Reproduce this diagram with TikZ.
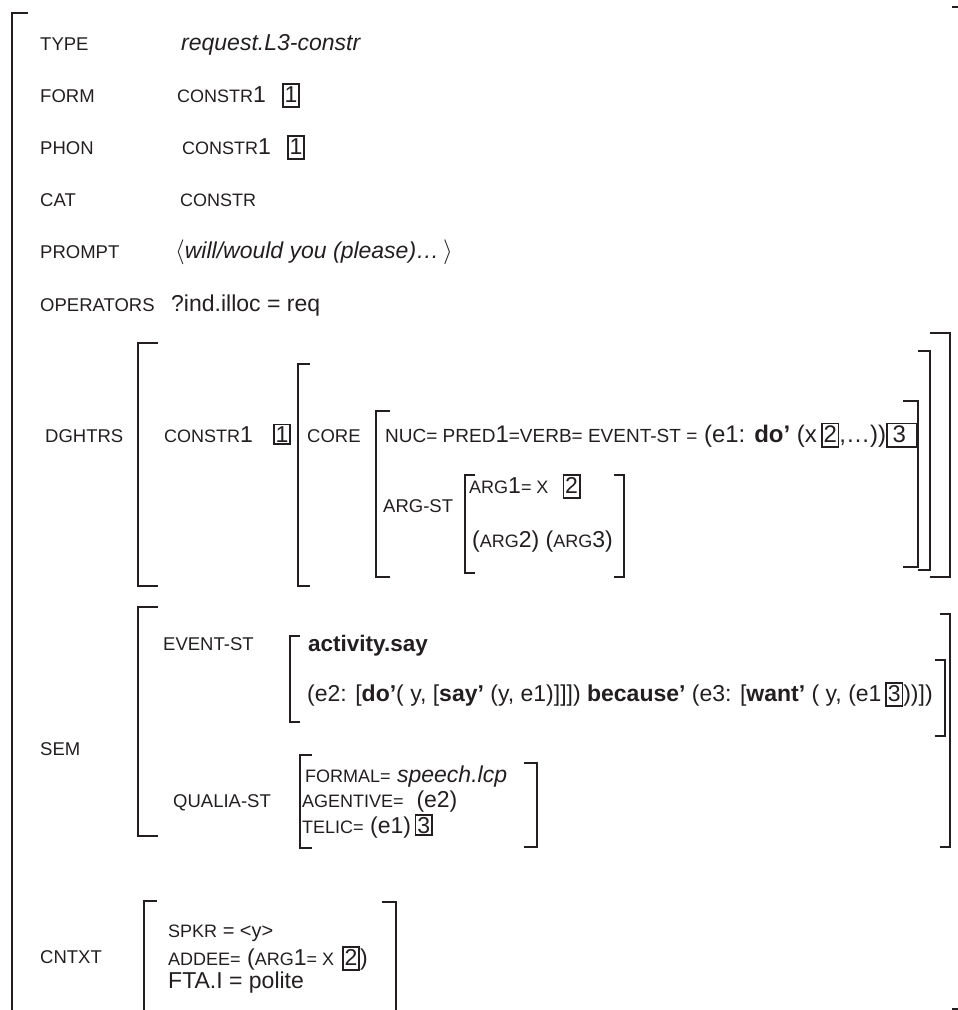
\documentclass[tikz,border=0pt]{standalone}
\usepackage{fontspec}
\setmainfont{Liberation Sans}
\usetikzlibrary{positioning}
\definecolor{ink}{RGB}{35,31,32}
\newcommand{\lab}{\fontsize{18.5}{20}\selectfont}
\newcommand{\nrm}{\fontsize{23}{25}\selectfont}
\newcommand{\sml}[1]{{\fontsize{18}{20}\selectfont #1}}
\newcommand{\smb}[1]{{\fontsize{19}{21}\selectfont #1}}
\setlength{\fboxrule}{1.6pt}
\setlength{\fboxsep}{1pt}
\newcommand{\bx}[1]{\fbox{\rule[-3pt]{0pt}{19pt}#1}}
\newcommand{\bxs}[1]{\fbox{#1}}
\tikzset{
  lbl/.style={anchor=base west, inner sep=0pt, font=\lab, text=ink},
  val/.style={anchor=base west, inner sep=0pt, font=\nrm, text=ink},
  brak/.style={draw=ink, line width=1.5pt},
}
\begin{document}
\begin{tikzpicture}[x=1pt,y=-1pt]
			\useasboundingbox (0,0) rectangle (958,1010);
			
			\draw[brak] (28,13) -| (12,1010);
			\draw[brak] (952,7) -- (958,7);
			\draw[brak] (952,1009) -- (958,1009);
			
			\node[lbl] (type) at (40,50) {TYPE};
			\node[val] (typev) at (181,50) {\textit{request.L3-constr}};
			\node[lbl] (form) at (40,102) {FORM};
			\node[val] (formv) at (177,102) {\sml{CONSTR}1\hspace{16pt}\bx{1}};
			\node[lbl] (phon) at (40,154) {PHON};
			\node[val] (phonv) at (182,154) {\sml{CONSTR}1\hspace{16pt}\bx{1}};
			\node[lbl] (cat) at (40,206) {CAT};
			\node[val] (catv) at (180,206) {\sml{CONSTR}};
			\node[lbl] (prompt) at (40,258) {PROMPT};
			\node[val] (promptv) at (175,258) {$\langle$\textit{will/would you (please)\ldots}\,$\rangle$};
			\node[lbl] (oper) at (40,311) {OPERATORS};
			\node[val] (operv) at (171,311) {?ind.illoc = req};
			
			\draw[brak] (158,343) -| (138,586) -- (158,586);
			\draw[brak] (930,333) -| (950,577) -- (930,577);
			\draw[brak] (310,364) -| (298,586) -- (310,586);
			\draw[brak] (918,351) -| (930,570) -- (918,570);
			\draw[brak] (390,411) -| (376,577) -- (390,577);
			\draw[brak] (903,401) -| (918,567) -- (903,567);
			\draw[brak] (475,475) -| (465,573) -- (475,573);
			\draw[brak] (614,475) -| (624,577) -- (614,577);
			
			\node[lbl] (dghtrs) at (45,442) {DGHTRS};
			\node[val] (constr) at (164,442) {\sml{CONSTR}1\hspace{20pt}\bxs{1}};
			\node[lbl] (core) at (307,442) {CORE};
			\node[val, font=\fontsize{24}{26}\selectfont] (nuc) at (385,442) {\smb{NUC= PRED}1\smb{=VERB= EVENT-ST =} (e1: \textbf{do’} (x\,\bx{2},\ldots))\bx{\,3\hspace{9pt}}};
			\node[lbl] (argst) at (383,512) {ARG-ST};
			\node[val] (arg1) at (469,493) {\sml{ARG}1\sml{= X}\hspace{14pt}\bx{2}};
			\node[val] (arg23) at (472,547) {(\sml{ARG}2) (\sml{ARG}3)};
			
			\draw[brak] (158,607) -| (138,836) -- (158,836);
			\draw[brak] (940,614) -| (950,847) -- (940,847);
			\draw[brak] (300,636) -| (290,722) -- (300,722);
			\draw[brak] (935,660) -| (945,736) -- (935,736);
			\draw[brak] (312,755) -| (300,848) -- (312,848);
			\draw[brak] (524,763) -| (537,847) -- (524,847);
			
			\node[lbl] (sem) at (40,755) {SEM};
			\node[lbl] (eventst) at (163,650) {EVENT-ST};
			\node[val, font=\fontsize{22.5}{24}\selectfont] (activity) at (308,651) {\textbf{activity.say}};
			\node[val] (e2) at (307,701) {(e2: [\textbf{do’}( y, [\textbf{say’} (y, e1)]]]) \textbf{because’} (e3: [\textbf{want’} ( y, (e1\,\bx{3}))])};
			\node[lbl] (qualia) at (173,807) {QUALIA-ST};
			\node[val] (formal) at (305,782) {\sml{FORMAL=} \textit{speech.lcp}};
			\node[val] (agentive) at (302,807) {\sml{AGENTIVE=}\ \ (e2)};
			\node[val] (telic) at (302,833) {\sml{TELIC=} (e1)\,\bxs{3}};
			
			\draw[brak] (157,901) -| (144,1010);
			\draw[brak] (382,902) -| (396,1010);
			
			\node[lbl] (cntxt) at (40,963) {CNTXT};
			\node[val, font=\fontsize{20}{22}\selectfont] (spkr) at (168,937) {\sml{SPKR} = <y>};
			\node[val] (addee) at (168,965) {\sml{ADDEE=} (\sml{ARG}1\sml{= X}\hspace{8pt}\bx{2})};
			\node[val] (fta) at (168,988) {FTA.I = polite};
\end{tikzpicture}
\end{document}
